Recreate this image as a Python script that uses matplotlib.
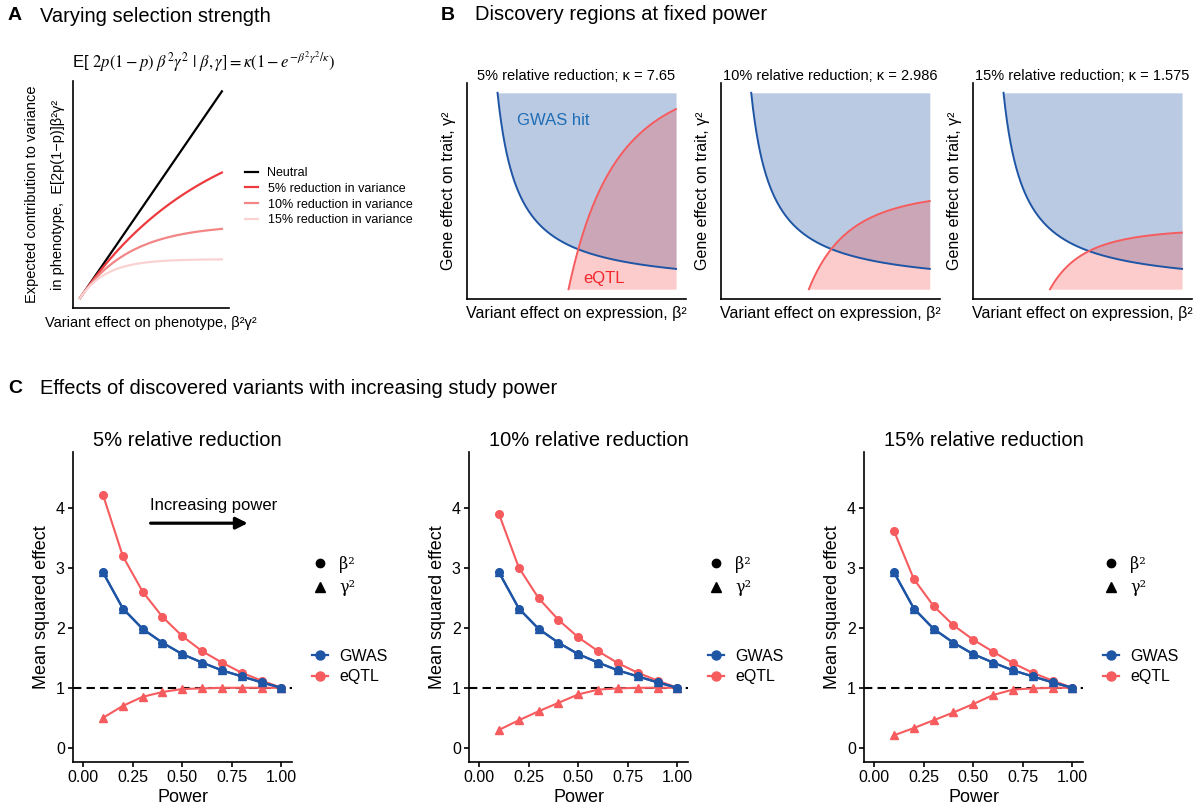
import numpy as np
import matplotlib
matplotlib.use("Agg")
import matplotlib.pyplot as plt
from matplotlib.lines import Line2D

plt.rcParams['font.family'] = ['Liberation Sans', 'DejaVu Sans']
plt.rcParams['axes.linewidth'] = 1.2

W, H = 1203, 807

# ---- panel A: expected contribution under selection ----
sel_labels = ['Neutral', '5% reduction in variance', '10% reduction in variance', '15% reduction in variance']
sel_kappa = [None, 7.65, 2.986, 1.575]
sel_colors = ['black', '#ec3a3e', '#f28686', '#fbd2d2']
effect_max = 8.4

# ---- panel B: discovery regions ----
region_titles = ['5% relative reduction; \u03ba = 7.65',
                 '10% relative reduction; \u03ba = 2.986',
                 '15% relative reduction; \u03ba = 1.575']
region_kappa = [7.65, 2.986, 1.575]
eqtl_threshold = [1.84, 1.572, 1.348]
gwas_threshold = 1.57
beta2_max = 4.0
gamma2_max = 3.8

# ---- panel C: mean squared effects vs power ----
power = [0.1, 0.2, 0.3, 0.4, 0.5, 0.6, 0.7, 0.8, 0.9, 1.0]
power_titles = ['5% relative reduction', '10% relative reduction', '15% relative reduction']
gwas_beta2 = [2.92, 2.32, 1.98, 1.75, 1.56, 1.42, 1.29, 1.19, 1.09, 1.0]
gwas_gamma2 = [2.92, 2.32, 1.98, 1.75, 1.56, 1.42, 1.29, 1.19, 1.09, 1.0]
eqtl_beta2 = [
    [4.21, 3.19, 2.60, 2.18, 1.86, 1.61, 1.42, 1.25, 1.12, 1.0],
    [3.89, 3.00, 2.49, 2.13, 1.84, 1.61, 1.41, 1.25, 1.12, 1.0],
    [3.61, 2.81, 2.36, 2.04, 1.80, 1.60, 1.41, 1.25, 1.12, 1.0],
]
eqtl_gamma2 = [
    [0.50, 0.70, 0.85, 0.93, 0.98, 0.99, 1.0, 1.0, 1.0, 1.0],
    [0.30, 0.46, 0.61, 0.75, 0.89, 0.97, 0.99, 1.0, 1.0, 1.0],
    [0.21, 0.33, 0.46, 0.59, 0.73, 0.88, 0.97, 0.99, 1.0, 1.0],
]

GWAS_COL = '#1f55a5'
EQTL_COL = '#f65b5e'


def px_axes(fig, left, top, right, bottom):
    return fig.add_axes([left / W, 1 - bottom / H, (right - left) / W, (bottom - top) / H])


def clean(ax):
    for s in ['top', 'right']:
        ax.spines[s].set_visible(False)


fig = plt.figure(figsize=(W / 100, H / 100), dpi=100)

# section headings
for x_lab, x_txt, y, lab, txt in [(8, 40, 16, 'A', 'Varying selection strength'),
                                  (441, 475, 15, 'B', 'Discovery regions at fixed power'),
                                  (8, 40, 389, 'C', 'Effects of discovered variants with increasing study power')]:
    fig.text(x_lab / W, 1 - y / H, lab, fontsize=14, fontweight='bold', va='center')
    fig.text(x_txt / W, 1 - y / H, txt, fontsize=14.5, va='center')

# ---------------- panel A ----------------
axA = px_axes(fig, 73, 81, 229, 308)
clean(axA)
xx = np.linspace(0, effect_max, 300)
for lab, k, c in zip(sel_labels, sel_kappa, sel_colors):
    yy = xx if k is None else k * (1 - np.exp(-xx / k))
    axA.plot(xx, yy, color=c, lw=1.6, label=lab)
axA.set_xlim(-0.42, effect_max * 1.05)
axA.set_ylim(-0.41, effect_max * 1.05)
axA.set_xticks([])
axA.set_yticks([])
axA.set_xlabel('Variant effect on phenotype, \u03b2\u00b2\u03b3\u00b2', fontsize=10.5, labelpad=6)
axA.set_ylabel('Expected contribution to variance\nin phenotype,  E[2p(1\u2212p)]\u03b2\u00b2\u03b3\u00b2',
               fontsize=10.5, labelpad=6, linespacing=2.1)
axA.legend(loc='upper left', bbox_to_anchor=(245 / W, 1 - 167 / H), bbox_transform=fig.transFigure,
           frameon=False, fontsize=9, handlelength=1.0, handletextpad=0.8, labelspacing=0.3,
           borderpad=0, borderaxespad=0)
fig.text(204 / W, 1 - 62 / H,
         r'E[ $2p(1-p)\ \beta^2\gamma^2\ |\ \beta,\gamma] = \kappa(1-e^{-\beta^2\gamma^2/\kappa})$',
         fontsize=12, ha='center', va='center', math_fontfamily='stix')

# ---------------- panel B ----------------
b_lefts = [467, 720.7, 973]
for i, left in enumerate(b_lefts):
    ax = px_axes(fig, left, 83, left + 219, 299)
    clean(ax)
    k = region_kappa[i]
    ce = eqtl_threshold[i]
    # GWAS region above beta2 * gamma2 = threshold
    bx = np.linspace(gwas_threshold / gamma2_max, beta2_max, 400)
    by = gwas_threshold / bx
    ax.fill_between(bx, by, gamma2_max, color='#bacae2', lw=0)
    ax.plot(bx, by, color=GWAS_COL, lw=1.4)
    # eQTL region to the right of the detection curve
    g = np.linspace(1e-6, k / ce * 0.99999, 4000)
    b = -(k / g) * np.log(1 - ce * g / k)
    keep = b <= beta2_max
    g, b = g[keep], b[keep]
    ax.fill_betweenx(g, b, beta2_max, color='#f85050', alpha=0.29, lw=0)
    ax.plot(b, g, color=EQTL_COL, lw=1.4)
    ax.set_xlim(-0.05 * beta2_max, 1.05 * beta2_max)
    ax.set_ylim(-0.05 * gamma2_max, 1.05 * gamma2_max)
    ax.set_xticks([])
    ax.set_yticks([])
    ax.set_xlabel('Variant effect on expression, \u03b2\u00b2', fontsize=11.5, labelpad=5)
    ax.set_ylabel('Gene effect on trait, \u03b3\u00b2', fontsize=11.5, labelpad=8)
    ax.set_title(region_titles[i], fontsize=10.5, pad=1)
    if i == 0:
        ax.text(0.2 * beta2_max, 0.86 * gamma2_max, 'GWAS hit', color='#1f6db5', fontsize=12, va='center')
        ax.text(0.535 * beta2_max, 0.055 * gamma2_max, 'eQTL', color='#f2262c', fontsize=12, va='center')

# ---------------- panel C ----------------
c_lefts = [73.3, 469.3, 864.3]
for i, left in enumerate(c_lefts):
    ax = px_axes(fig, left, 451.7, left + 219, 761.7)
    clean(ax)
    ax.axhline(1, color='black', lw=1.5, ls=(0, (4, 2.5)), zorder=1)
    ax.plot(power, gwas_beta2, color=GWAS_COL, lw=1.6, marker='o', ms=5.5, zorder=3)
    ax.plot(power, gwas_gamma2, color=GWAS_COL, lw=1.6, marker='^', ms=6, zorder=3)
    ax.plot(power, eqtl_beta2[i], color=EQTL_COL, lw=1.5, marker='o', ms=5.5, zorder=2)
    ax.plot(power, eqtl_gamma2[i], color=EQTL_COL, lw=1.5, marker='^', ms=6, zorder=2)
    ax.set_xlim(-0.05, 1.055)
    ax.set_ylim(-0.23, 4.93)
    ax.set_xticks([0, 0.25, 0.5, 0.75, 1.0])
    ax.set_xticklabels(['0.00', '0.25', '0.50', '0.75', '1.00'])
    ax.set_yticks([0, 1, 2, 3, 4])
    ax.tick_params(labelsize=11.5, length=3.6, width=1.2, pad=2.5)
    ax.set_xlabel('Power', fontsize=13, labelpad=3)
    ax.set_ylabel('Mean squared effect', fontsize=13, labelpad=4)
    ax.text(20 / 219, 1 + 11 / 310, power_titles[i], transform=ax.transAxes, fontsize=14.5,
            ha='left', va='center')
    if i == 0:
        ax.annotate('', xy=(0.83, 3.74), xytext=(0.34, 3.74),
                    arrowprops=dict(arrowstyle='-|>,head_length=0.7,head_width=0.35',
                                    lw=2.3, color='black', shrinkA=0, shrinkB=0))
        ax.text(0.656, 4.03, 'Increasing power', fontsize=12, ha='center', va='center')
    shape_handles = [Line2D([], [], color='black', marker='o', ls='none', ms=6),
                     Line2D([], [], color='black', marker='^', ls='none', ms=6.5)]
    leg1 = ax.legend(shape_handles, ['\u03b2\u00b2', '\u03b3\u00b2'], loc='center left',
                     bbox_to_anchor=((left + 219 + 20) / W, 1 - 576 / H), bbox_transform=fig.transFigure,
                     frameon=False, handlelength=1.0, handletextpad=0.7,
                     labelspacing=0.4, borderpad=0, borderaxespad=0,
                     prop={'family': 'DejaVu Serif', 'size': 11.5})
    ax.add_artist(leg1)
    color_handles = [Line2D([], [], color=GWAS_COL, marker='o', lw=1.6, ms=6.5),
                     Line2D([], [], color=EQTL_COL, marker='o', lw=1.6, ms=6.5)]
    ax.legend(color_handles, ['GWAS', 'eQTL'], loc='center left',
              bbox_to_anchor=((left + 219 + 20) / W, 1 - 666.5 / H), bbox_transform=fig.transFigure,
              frameon=False, fontsize=11.5, handlelength=1.0, handletextpad=0.7,
              labelspacing=0.35, borderpad=0, borderaxespad=0)

fig.savefig('out.png', dpi=100)
